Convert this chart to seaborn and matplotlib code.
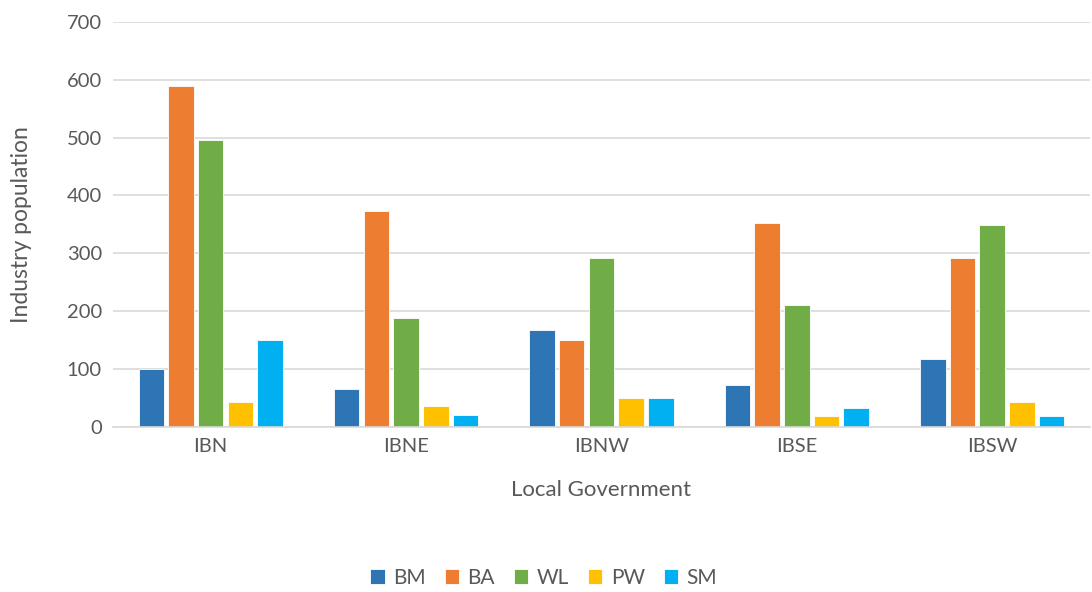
import pandas as pd
import matplotlib.pyplot as plt
import seaborn as sns

# chart values
governments = ["IBN", "IBNE", "IBNW", "IBSE", "IBSW"]
industries = ["BM", "BA", "WL", "PW", "SM"]
bm = [100, 65, 168, 72, 117]
ba = [590, 373, 150, 352, 292]
wl = [495, 189, 292, 210, 349]
pw = [43, 36, 50, 18, 43]
sm = [150, 21, 50, 32, 18]
colors = ["#2E75B6", "#ED7D31", "#70AD47", "#FFC000", "#00B0F0"]

rows = []
for name, vals in zip(industries, [bm, ba, wl, pw, sm]):
    for gov, v in zip(governments, vals):
        rows.append({"Local Government": gov, "Industry": name, "Population": v})
df = pd.DataFrame(rows)

sns.set_style("white")
plt.rcParams["font.family"] = ["Lato", "DejaVu Sans"]

fig = plt.figure(figsize=(10.92, 5.92), dpi=100)
ax = fig.add_axes([0.1035, 0.279, 0.8945, 0.684])

sns.barplot(data=df, x="Local Government", y="Population", hue="Industry",
            order=governments, hue_order=industries, palette=colors,
            saturation=1, width=0.76, gap=0.14, edgecolor="white", linewidth=0.6,
            ax=ax, legend=True)

ax.set_ylim(0, 700)
ax.set_xlim(-0.5, 4.5)
ax.set_yticks(range(0, 701, 100))
ax.yaxis.grid(True, color="#D9D9D9", linewidth=1.2)
ax.set_axisbelow(True)
for s in ["top", "right", "left"]:
    ax.spines[s].set_visible(False)
ax.spines["bottom"].set_color("#D9D9D9")
ax.spines["bottom"].set_linewidth(1.2)
ax.tick_params(axis="both", length=0, labelsize=14.5, colors="#595959", pad=8)

ax.set_xlabel("Local Government", fontsize=16, color="#595959", labelpad=18)
ax.set_ylabel("Industry population", fontsize=16.5, color="#595959", labelpad=25)

handles, labels = ax.get_legend_handles_labels()
ax.get_legend().remove()
fig.legend(handles, labels, loc="center", bbox_to_anchor=(0.498, 1 - 578 / 592),
           ncol=5, frameon=False, fontsize=15, handlelength=0.7, handleheight=0.7,
           handletextpad=0.4, columnspacing=0.9, labelcolor="#595959")

fig.savefig("out.png", dpi=100)
plt.close(fig)
